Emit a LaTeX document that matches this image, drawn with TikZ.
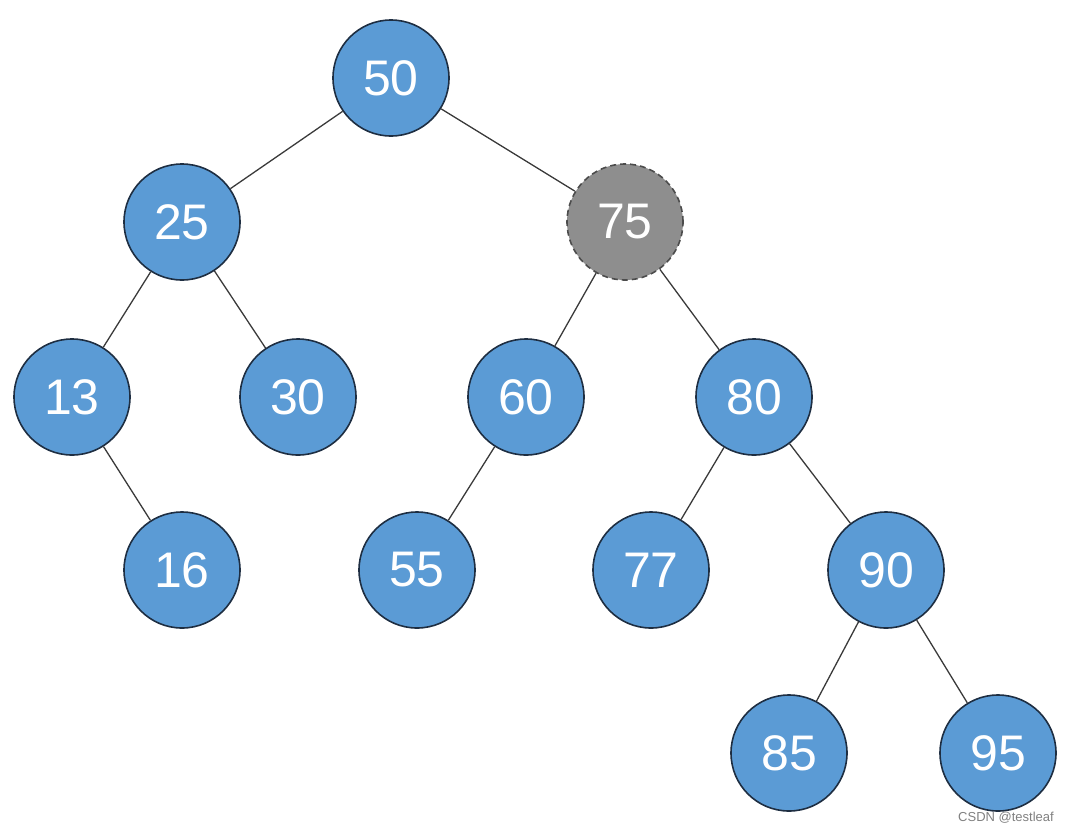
\documentclass[tikz,border=0pt]{standalone}
\usepackage{fontspec}
\setmainfont{Liberation Sans}
\definecolor{nodeblue}{HTML}{5B9BD5}
\definecolor{nodeborder}{HTML}{1E2E42}
\definecolor{nodegray}{HTML}{8E8E8E}
\definecolor{edgecol}{HTML}{3A3A3A}
\begin{document}
\begin{tikzpicture}[x=1pt,y=-1pt,
  tnode/.style={circle,draw=nodeborder,line width=1.6pt,fill=nodeblue,minimum size=116pt,inner sep=0pt,text=white,font=\fontsize{50}{50}\selectfont},
  gnode/.style={tnode,fill=nodegray,draw=black!70,dashed,dash pattern=on 6pt off 4pt},
  edge/.style={draw=edgecol,line width=1.3pt}]
\useasboundingbox (0,0) rectangle (1071,833);
\node[tnode] (n50) at (391,78) {50};
\node[tnode] (n25) at (182,222) {25};
\node[gnode] (n75) at (625,222) {75};
\node[tnode] (n13) at (72,397) {13};
\node[tnode] (n30) at (298,397) {30};
\node[tnode] (n60) at (526,397) {60};
\node[tnode] (n80) at (754,397) {80};
\node[tnode] (n16) at (182,570) {16};
\node[tnode] (n55) at (417,570) {55};
\node[tnode] (n77) at (651,570) {77};
\node[tnode] (n90) at (886,570) {90};
\node[tnode] (n85) at (789,753) {85};
\node[tnode] (n95) at (998,753) {95};
\draw[edge] (n50) -- (n25);
\draw[edge] (n50) -- (n75);
\draw[edge] (n25) -- (n13);
\draw[edge] (n25) -- (n30);
\draw[edge] (n75) -- (n60);
\draw[edge] (n75) -- (n80);
\draw[edge] (n13) -- (n16);
\draw[edge] (n60) -- (n55);
\draw[edge] (n80) -- (n77);
\draw[edge] (n80) -- (n90);
\draw[edge] (n90) -- (n85);
\draw[edge] (n90) -- (n95);
\node[text=black!50,font=\fontsize{13}{13}\selectfont] (wm) at (1006,818) {CSDN @testleaf};
\end{tikzpicture}
\end{document}
